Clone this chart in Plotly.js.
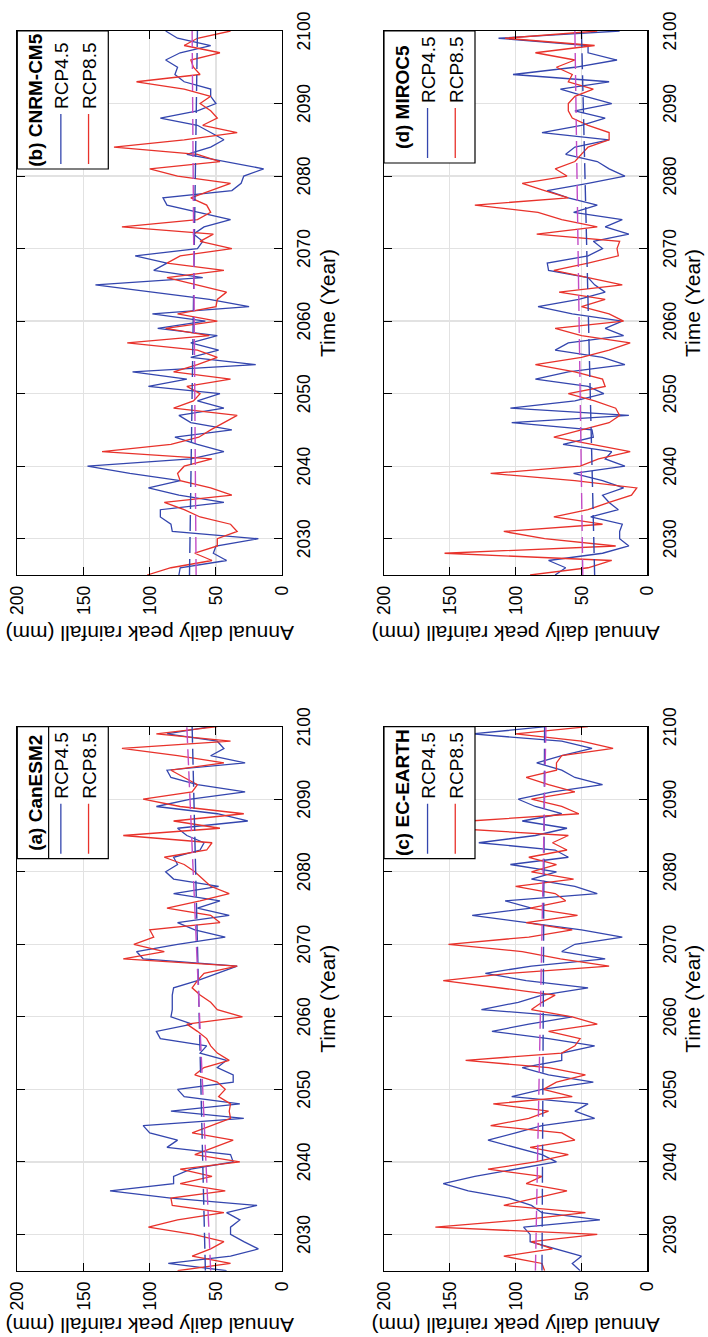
<!DOCTYPE html>
<html><head><meta charset="utf-8">
<script src="https://cdn.plot.ly/plotly-3.0.1.min.js"></script>
<style>
html,body{margin:0;padding:0;width:708px;height:1337px;overflow:hidden;background:#fff}
#wrap{position:absolute;left:0;top:0;width:1337px;height:708px;transform-origin:0 0;transform:translate(0px,1337px) rotate(-90deg);}
</style></head><body>
<div id="wrap"></div>
<script>
const years = [2025,2026,2027,2028,2029,
 2030,2031,2032,2033,2034,2035,2036,2037,2038,2039,
 2040,2041,2042,2043,2044,2045,2046,2047,2048,2049,
 2050,2051,2052,2053,2054,2055,2056,2057,2058,2059,
 2060,2061,2062,2063,2064,2065,2066,2067,2068,2069,
 2070,2071,2072,2073,2074,2075,2076,2077,2078,2079,
 2080,2081,2082,2083,2084,2085,2086,2087,2088,2089,
 2090,2091,2092,2093,2094,2095,2096,2097,2098,2099,2100];

// (a) CanESM2
const canRcp45 = [42,86,39,18,29, 39,39,32,42,19,84,130,82,82,69, 37,39,87,79,100,105,29,84,32,74,
 79,37,37,49,42,62,57,92,95,68, 84,83,83,83,82,64,49,34,105,110, 79,43,66,79,40,64,47,82,48,82,
 88,79,82,62,59,72,79,26,49,95, 69,28,64,84,87,28,54,44,49,87,54];
const canRcp85 = [79,39,68,54,44, 67,101,79,44,83,84,43,77,53,77, 32,66,52,37,68,54,39,40,39,48,
 43,49,66,59,40,49,54,57,64,72, 30,49,54,62,68,64,59,34,120,89, 112,97,100,47,54,87,62,40,54,60,
 66,74,89,57,53,120,47,82,29,77, 105,68,64,74,84,44,79,121,39,95,49];
// (b) CNRM-CM5
const cnrmRcp45 = [78,77,42,52,50, 18,83,84,92,92,44,78,101,77,115, 147,69,44,64,81,38,69,78,44,64,
 47,101,72,113,20,69,48,69,49,94, 58,98,25,55,100,141,60,97,87,111, 64,60,67,59,39,64,87,90,38,31,
 29,14,44,72,54,44,54,64,92,64, 50,54,54,74,81,79,88,77,54,79,88];
const cnrmRcp85 = [102,84,53,66,49, 49,34,39,62,74,89,38,54,77,79, 74,53,136,84,63,54,44,34,82,67,
 62,72,39,82,64,49,64,117,55,88, 49,79,50,49,42,64,87,44,87,77, 38,62,52,121,64,54,57,69,54,39,
 79,100,47,64,127,74,34,60,49,54, 62,54,74,110,62,67,69,47,74,64,39];
// (c) EC-EARTH
const ecRcp45 = [51,57,50,70,89, 89,94,36,80,88,105,136,155,131,100, 69,80,100,121,100,80,40,55,45,103,
 80,41,75,95,65,65,40,75,118,90, 57,126,98,80,45,92,123,88,32,65, 55,19,50,93,133,88,108,38,55,88,
 69,104,60,70,128,85,61,95,65,85, 98,72,34,55,65,84,65,42,65,133,77];
const ecRcp85 = [78,80,109,72,88, 38,161,95,47,109,85,61,92,80,121, 85,60,89,55,65,119,90,75,117,57,
 79,69,47,75,138,65,55,51,75,38, 57,88,80,70,113,155,105,29,66,95, 151,90,57,92,53,89,62,70,100,56,
 88,69,90,61,72,60,150,135,52,65, 88,55,75,92,69,69,65,26,50,100,45];
// (d) MIROC5
const mirocRcp45 = [70,62,75,34,14, 21,21,19,43,22,29,34,18,34,56, 17,32,27,64,41,42,103,14,104,55,
 33,45,85,60,17,34,70,60,18,32, 19,57,83,52,32,40,45,75,76,45, 34,41,14,32,19,56,38,60,76,45,
 17,29,38,62,55,29,80,50,32,55, 27,47,66,29,102,55,23,45,45,113,21];
const mirocRcp85 = [89,45,27,154,24, 78,109,34,71,45,29,12,8,55,119, 51,37,13,42,71,50,29,21,24,40,
 60,32,34,55,85,50,29,13,50,70, 18,29,50,32,67,19,45,71,45,22, 23,21,84,38,65,83,131,60,78,95,
 61,70,55,50,45,29,29,45,57,60, 60,55,41,60,57,69,55,85,40,108,38];

// linear trend end points (2025, 2100)
const trendYears = [2025, 2100];
const canTrend45 = [58, 68],  canTrend85 = [54, 72];
const cnrmTrend45 = [70, 64], cnrmTrend85 = [65, 68];
const ecTrend45 = [80, 78],   ecTrend85 = [85, 77];
const mirocTrend45 = [40, 50], mirocTrend85 = [49, 55];

const yearTicks = [2030,2040,2050,2060,2070,2080,2090,2100];
const rainTicks = [0,50,100,150,200];
const seriesNames = ['RCP4.5','RCP8.5'];
const panelTitles = ['(a) CanESM2','(b) CNRM-CM5','(c) EC-EARTH','(d) MIROC5'];

const FONT = 'Liberation Sans, Arial, Helvetica, sans-serif';
const BLUE = '#3446AE', RED = '#E8322B', MAG = '#C24CC6';
const W = 1337, H = 708;

const panels = [
  {t:panelTitles[0], r45:canRcp45,   r85:canRcp85,   t45:canTrend45,   t85:canTrend85,   xa:'x',  ya:'y',  lg:'legend'},
  {t:panelTitles[1], r45:cnrmRcp45,  r85:cnrmRcp85,  t45:cnrmTrend45,  t85:cnrmTrend85,  xa:'x2', ya:'y2', lg:'legend2'},
  {t:panelTitles[2], r45:ecRcp45,    r85:ecRcp85,    t45:ecTrend45,    t85:ecTrend85,    xa:'x3', ya:'y3', lg:'legend3'},
  {t:panelTitles[3], r45:mirocRcp45, r85:mirocRcp85, t45:mirocTrend45, t85:mirocTrend85, xa:'x4', ya:'y4', lg:'legend4'}
];

const XL = [66.3/W, 610.3/W], XR = [762/W, 1306/W];
const YT = [(H-282.2)/H, (H-17.3)/H], YB = [(H-647.3)/H, (H-384)/H];
const doms = [[XL,YT],[XR,YT],[XL,YB],[XR,YB]];

const data = [];
panels.forEach(p => {
  data.push({x:years, y:p.r45, type:'scatter', mode:'lines', name:seriesNames[0], xaxis:p.xa, yaxis:p.ya, legend:p.lg,
    line:{color:BLUE, width:1.3}});
  data.push({x:years, y:p.r85, type:'scatter', mode:'lines', name:seriesNames[1], xaxis:p.xa, yaxis:p.ya, legend:p.lg,
    line:{color:RED, width:1.3}});
  data.push({x:trendYears, y:p.t45, type:'scatter', mode:'lines', showlegend:false, xaxis:p.xa, yaxis:p.ya,
    line:{color:BLUE, width:1.4, dash:'16px,6px'}});
  data.push({x:trendYears, y:p.t85, type:'scatter', mode:'lines', showlegend:false, xaxis:p.xa, yaxis:p.ya,
    line:{color:MAG, width:1.4, dash:'16px,6px'}});
});

function xax(domain, anchor){
  return {domain:domain, anchor:anchor, range:[2025,2100], tickvals:yearTicks, ticktext:yearTicks.map(String),
    ticks:'inside', ticklen:8, tickwidth:1, tickcolor:'#000', mirror:'ticks', showline:true, linecolor:'#000', linewidth:1.2,
    showgrid:true, gridcolor:'#e2e2e2', gridwidth:1.3, zeroline:false, automargin:false, ticklabelstandoff:6,
    tickfont:{family:FONT, size:17.5, color:'#000'},
    title:{text:'Time (Year)', font:{family:FONT, size:21, color:'#000'}, standoff:6}};
}
function yax(domain, anchor){
  return {domain:domain, anchor:anchor, range:[0,200], tickvals:rainTicks, ticktext:rainTicks.map(String),
    ticks:'inside', ticklen:8, tickwidth:1, tickcolor:'#000', mirror:'ticks', showline:true, linecolor:'#000', linewidth:1.2,
    showgrid:true, gridcolor:'#e2e2e2', gridwidth:1.3, zeroline:false, automargin:false, ticklabelstandoff:6,
    tickfont:{family:FONT, size:17.5, color:'#000'},
    title:{text:'Annual daily peak rainfall (mm)', font:{family:FONT, size:21, color:'#000'}, standoff:4}};
}
function leg(i){
  const d = doms[i];
  return {x:d[0][1], y:d[1][1], xref:'paper', yref:'paper', xanchor:'right', yanchor:'top',
    bgcolor:'rgba(0,0,0,0)', borderwidth:0, font:{family:FONT, size:19, color:'#000'},
    title:{text:panelTitles[i], side:'top center', font:{family:FONT, size:19, color:'#000', weight:'bold'}},
    traceorder:'normal', itemwidth:50, tracegroupgap:0, itemclick:false, itemdoubleclick:false};
}

const layout = {width:W, height:H, margin:{l:0,r:0,t:0,b:0}, paper_bgcolor:'#fff', plot_bgcolor:'#fff',
  showlegend:true, font:{family:FONT, color:'#000'},
  xaxis:xax(XL,'y'), yaxis:yax(YT,'x'),
  xaxis2:xax(XR,'y2'), yaxis2:yax(YT,'x2'),
  xaxis3:xax(XL,'y3'), yaxis3:yax(YB,'x3'),
  xaxis4:xax(XR,'y4'), yaxis4:yax(YB,'x4'),
  legend:leg(0), legend2:leg(1), legend3:leg(2), legend4:leg(3)};

const gd = document.getElementById('wrap');
Plotly.newPlot(gd, data, layout, {staticPlot:true, displayModeBar:false}).then(() => {
  const shapes = [];
  ['legend','legend2','legend3','legend4'].forEach(id => {
    const g = gd.querySelector('g.' + id);
    if (!g) return;
    const bg = g.querySelector('rect.bg');
    const tt = g.querySelector('text.legendtitletext');
    const items = g.querySelectorAll('text.legendtext');
    if (!bg) return;
    const r = bg.getBoundingClientRect();
    // invert the css rotation: pre x = W - page y, pre y = page x
    const x0 = W - r.bottom, x1 = W - r.top, yTop = r.left, yBot = r.right;
    shapes.push({type:'rect', xref:'paper', yref:'paper', x0:x0/W, x1:x1/W, y0:1-yBot/H, y1:1-yTop/H,
      fillcolor:'#fff', line:{color:'#000', width:1.2}, layer:'above'});
    if (tt && items.length) {
      const tr = tt.getBoundingClientRect();
      const ir = items[0].getBoundingClientRect();
      const sep = (tr.right + ir.left) / 2;
      shapes.push({type:'line', xref:'paper', yref:'paper', x0:x0/W, x1:x1/W, y0:1-sep/H, y1:1-sep/H,
        line:{color:'#000', width:1.2}, layer:'above'});
    }
  });
  return Plotly.relayout(gd, {shapes:shapes});
});
</script>
</body></html>
